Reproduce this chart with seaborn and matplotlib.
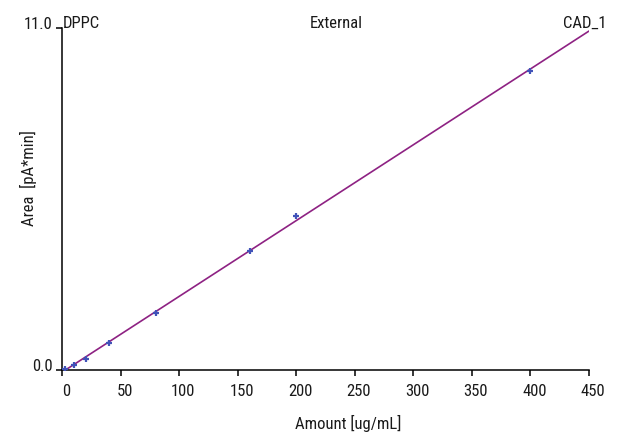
import numpy as np
import pandas as pd
import matplotlib
matplotlib.use("Agg")
import matplotlib.pyplot as plt
import matplotlib.transforms as mtransforms
import seaborn as sns

# Data
amount = [2, 10, 20, 40, 80, 160, 200, 400]
area = [0.03, 0.17, 0.36, 0.88, 1.84, 3.84, 4.96, 9.62]
x_ticks = [0, 50, 100, 150, 200, 250, 300, 350, 400, 450]
y_ticks = [0.0, 11.0]
x_range = [0, 450]
header_left = "DPPC"
header_mid = "External"
header_right = "CAD_1"

sns.set_theme(style="white")
plt.rcParams['font.family'] = ['Roboto Condensed', 'DejaVu Sans']

df = pd.DataFrame({"Amount": amount, "Area": area})
slope, intercept = np.polyfit(amount, area, 1)
fit_x = np.array(x_range, dtype=float)
fit_df = pd.DataFrame({"Amount": fit_x, "Area": slope * fit_x + intercept})

fig = plt.figure(figsize=(6.23, 4.33), dpi=100)
ax = fig.add_axes([0.1, 0.1455, 0.8454, 0.7898])

sns.lineplot(data=fit_df, x="Amount", y="Area", ax=ax, color="#8E2283", linewidth=1.2)
sns.scatterplot(data=df, x="Amount", y="Area", ax=ax, marker="+", color="#4052B8",
                s=22, linewidth=1.6, zorder=3)

ax.set_xlim(x_range[0], x_range[1])
ax.set_ylim(y_ticks[0], y_ticks[-1])
ax.set_xticks(x_ticks)
ax.set_xticklabels([str(v) for v in x_ticks], fontsize=12)
ax.set_yticks(y_ticks)
ax.set_yticklabels([f"{v:.1f}" for v in y_ticks], fontsize=12)

for side in ["top", "right"]:
    ax.spines[side].set_visible(False)
for side in ["left", "bottom"]:
    ax.spines[side].set_color("black")
    ax.spines[side].set_linewidth(1.1)
ax.tick_params(axis="both", direction="out", length=4, width=1.1, color="black",
               labelcolor="#1a1a1a", pad=3)
ax.tick_params(axis="x", bottom=True, pad=6)
ax.tick_params(axis="y", left=True, pad=3)

# shift tick labels slightly like the reference
for lbl in ax.get_xticklabels():
    lbl.set_transform(lbl.get_transform() + mtransforms.ScaledTranslation(4/100, 0, fig.dpi_scale_trans))
for lbl in ax.get_yticklabels():
    lbl.set_transform(lbl.get_transform() + mtransforms.ScaledTranslation(0, 5/100, fig.dpi_scale_trans))

ax.set_xlabel("")
ax.set_ylabel("")
fig.text(348/623, 1 - 423/433, "Amount [ug/mL]", ha="center", va="center", fontsize=12, color="#1a1a1a")
fig.text(28/623, 1 - 178/433, "Area  [pA*min]", ha="center", va="center", rotation=90,
         fontsize=12, color="#1a1a1a")

fig.text(63/623, 1 - 28/433, header_left, ha="left", va="baseline", fontsize=12, color="#1a1a1a")
fig.text(336/623, 1 - 28/433, header_mid, ha="center", va="baseline", fontsize=12, color="#1a1a1a")
fig.text(607/623, 1 - 28/433, header_right, ha="right", va="baseline", fontsize=12, color="#1a1a1a")

fig.savefig("out.png", dpi=100)
